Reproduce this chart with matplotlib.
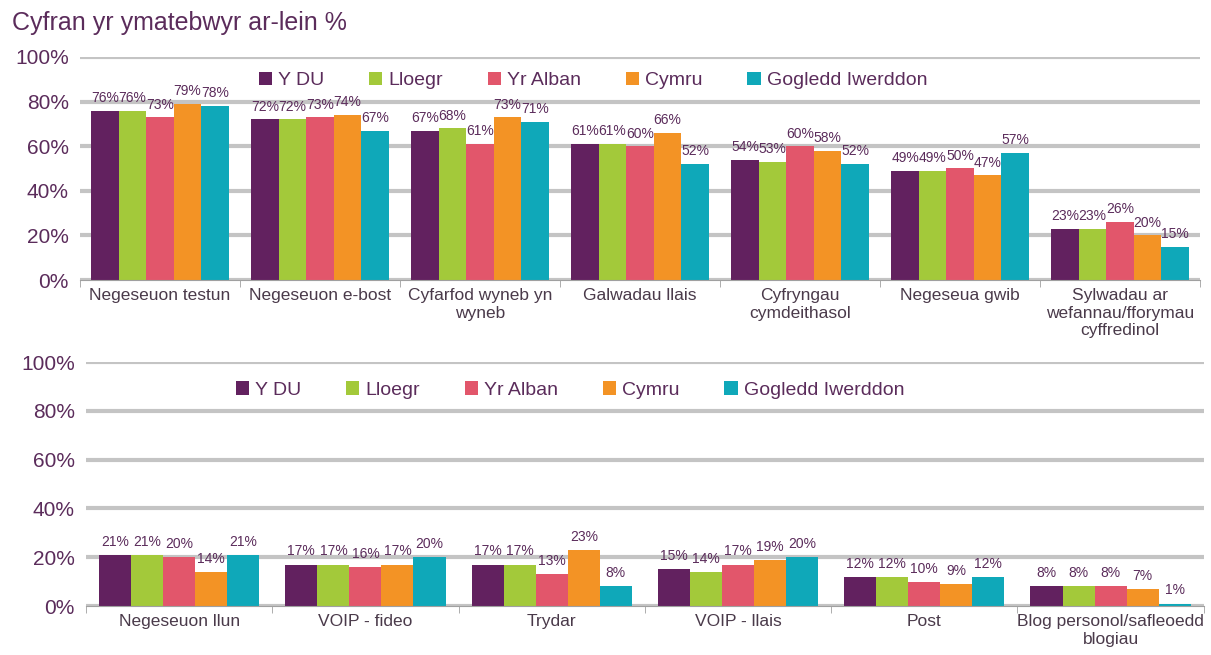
import numpy as np
import matplotlib
matplotlib.use("Agg")
import matplotlib.pyplot as plt
from matplotlib.ticker import FixedLocator, NullFormatter

plt.rcParams['font.family'] = ['Liberation Sans', 'DejaVu Sans']

series = ['Y DU', 'Lloegr', 'Yr Alban', 'Cymru', 'Gogledd Iwerddon']
colors = ['#62215F', '#A3C93A', '#E2566B', '#F39325', '#0FA8B9']

cats_top = ['Negeseuon testun', 'Negeseuon e-bost', 'Cyfarfod wyneb yn\nwyneb',
            'Galwadau llais', 'Cyfryngau\ncymdeithasol', 'Negeseua gwib',
            'Sylwadau ar\nwefannau/fforymau\ncyffredinol']
ydu_top = [76, 72, 67, 61, 54, 49, 23]
lloegr_top = [76, 72, 68, 61, 53, 49, 23]
alban_top = [73, 73, 61, 60, 60, 50, 26]
cymru_top = [79, 74, 73, 66, 58, 47, 20]
gi_top = [78, 67, 71, 52, 52, 57, 15]

cats_bot = ['Negeseuon llun', 'VOIP - fideo', 'Trydar', 'VOIP - llais', 'Post',
            'Blog personol/safleoedd\nblogiau']
ydu_bot = [21, 17, 17, 15, 12, 8]
lloegr_bot = [21, 17, 17, 14, 12, 8]
alban_bot = [20, 16, 13, 17, 10, 8]
cymru_bot = [14, 17, 23, 19, 9, 7]
gi_bot = [21, 20, 8, 20, 12, 1]

txt = '#5B2C5B'
lab = '#4A3A4A'

fig = plt.figure(figsize=(12.11, 6.55), dpi=100)
ax1 = fig.add_axes([0.066, 0.5725, 0.925, 0.3405])
ax2 = fig.add_axes([0.071, 0.0748, 0.923, 0.3725])


def draw(ax, cats, vals, leg_xy):
    n = len(cats)
    x = np.arange(n)
    w = 0.172
    for i, (v, c, s) in enumerate(zip(vals, colors, series)):
        pos = x + (i - 2) * w
        ax.bar(pos, v, width=w, color=c, label=s, zorder=3)
        for p, val in zip(pos, v):
            ax.text(p, val + 2.5, f'{val}%', ha='center', va='bottom',
                    fontsize=10, color=txt, zorder=4)
    ax.set_xlim(-0.5, n - 0.5)
    ax.set_ylim(0, 100)
    ax.set_yticks(range(0, 101, 20))
    ax.set_yticklabels([f'{t}%' for t in range(0, 101, 20)], fontsize=15, color=txt)
    ax.yaxis.grid(True, color='#C4C4C4', linewidth=3, zorder=0)
    ax.set_xticks(x)
    ax.set_xticklabels(cats, fontsize=12.5, color=lab)
    ax.tick_params(axis='x', which='major', length=0, pad=6)
    ax.xaxis.set_minor_locator(FixedLocator(np.arange(-0.5, n, 1.0)))
    ax.xaxis.set_minor_formatter(NullFormatter())
    ax.tick_params(axis='x', which='minor', length=5, color='#A0A0A0')
    ax.tick_params(axis='y', length=0, pad=8)
    for side in ['top', 'right', 'left']:
        ax.spines[side].set_visible(False)
    ax.spines['bottom'].set_color('#A0A0A0')
    ax.spines['bottom'].set_zorder(5)
    ax.legend(loc='center', bbox_to_anchor=leg_xy, ncol=5, frameon=False,
              fontsize=14, handlelength=0.7, handleheight=0.7, handletextpad=0.3,
              columnspacing=2.3, labelcolor=txt)


draw(ax1, cats_top, [ydu_top, lloegr_top, alban_top, cymru_top, gi_top], (0.458, 0.895))
draw(ax2, cats_bot, [ydu_bot, lloegr_bot, alban_bot, cymru_bot, gi_bot], (0.433, 0.885))

fig.text(0.01, 0.965, 'Cyfran yr ymatebwyr ar-lein %', fontsize=18, color=txt,
         ha='left', va='center')

fig.savefig('out.png', dpi=100)
